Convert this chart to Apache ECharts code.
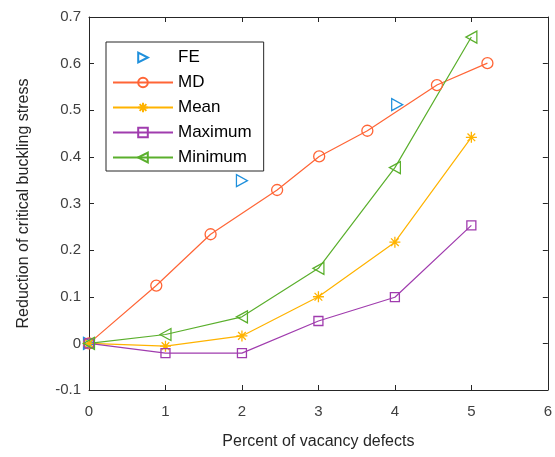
<!DOCTYPE html>
<html>
<head>
<meta charset="utf-8">
<script src="https://cdn.jsdelivr.net/npm/echarts@6/dist/echarts.min.js"></script>
<style>
html,body{margin:0;padding:0;background:#fff;}
#chart{width:555px;height:457px;}
</style>
</head>
<body>
<div id="chart"></div>
<script>
// ---- data ----
var seriesNames = ['FE', 'MD', 'Mean', 'Maximum', 'Minimum'];
var feX = [0, 2.0, 4.03];
var feY = [0, 0.349, 0.512];
var mdX = [0, 0.88, 1.59, 2.46, 3.01, 3.64, 4.55, 5.21];
var mdY = [0, 0.124, 0.234, 0.329, 0.401, 0.456, 0.554, 0.601];
var meanX = [0, 1, 2, 3, 4, 5];
var meanY = [0, -0.006, 0.016, 0.100, 0.217, 0.442];
var maxX = [0, 1, 2, 3, 4, 5];
var maxY = [0, -0.021, -0.021, 0.048, 0.099, 0.253];
var minX = [0, 1, 2, 3, 4, 5];
var minY = [0, 0.019, 0.057, 0.161, 0.377, 0.657];
var xTicks = [0, 1, 2, 3, 4, 5, 6];
var yTicks = [-0.1, 0, 0.1, 0.2, 0.3, 0.4, 0.5, 0.6, 0.7];

function pairs(xs, ys) { return xs.map(function (x, i) { return [x, ys[i]]; }); }

var colors = {
  FE: '#1f90dc',
  MD: '#ff6536',
  Mean: '#ffb300',
  Maximum: '#a03cae',
  Minimum: '#5aaf2c'
};
var asterisk = 'path://M0,-10L0,10M-10,0L10,0M-7,-7L7,7M-7,7L7,-7';
var font = 'Liberation Sans, Arial, sans-serif';
var axisColor = '#262626';

function mkSeries(name, data, symbol, size, rotate, noLine) {
  return {
    name: name,
    type: 'line',
    data: data,
    symbol: symbol,
    symbolSize: size,
    symbolRotate: rotate || 0,
    showSymbol: true,
    animation: false,
    xAxisIndex: 0,
    yAxisIndex: 0,
    lineStyle: { color: colors[name], width: noLine ? 0 : 1.2, opacity: noLine ? 0 : 1 },
    itemStyle: { color: 'rgba(0,0,0,0)', borderColor: colors[name], borderWidth: 1.3 },
    emphasis: { disabled: true }
  };
}

var chart = echarts.init(document.getElementById('chart'), null, { renderer: 'canvas' });
var option = {
  backgroundColor: '#fff',
  animation: false,
  color: seriesNames.map(function (n) { return colors[n]; }),
  grid: { left: 89, right: 6, top: 17, bottom: 67, containLabel: false },
  legend: {
    orient: 'vertical',
    left: 106,
    top: 42,
    padding: [7, 12, 5, 6],
    backgroundColor: '#fff',
    borderColor: axisColor,
    borderWidth: 1,
    itemWidth: 60,
    itemHeight: 12,
    itemGap: 8,
    data: seriesNames,
    textStyle: { fontFamily: font, fontSize: 17, lineHeight: 17, color: '#000' }
  },
  xAxis: [{
    type: 'value', min: 0, max: 6, interval: 1,
    name: 'Percent of vacancy defects', nameLocation: 'middle', nameGap: 44,
    nameTextStyle: { fontFamily: font, fontSize: 16, color: axisColor },
    axisLine: { show: true, onZero: false, lineStyle: { color: axisColor, width: 1 } },
    axisTick: { show: true, inside: true, length: 5, lineStyle: { color: axisColor } },
    axisLabel: { fontFamily: font, fontSize: 15, color: '#404040', margin: 14,
      formatter: function (v) { return xTicks.indexOf(v) >= 0 ? String(v) : ''; } },
    splitLine: { show: false }
  }, {
    type: 'value', min: 0, max: 6, interval: 1, position: 'top',
    axisLine: { show: true, onZero: false, lineStyle: { color: axisColor, width: 1 } },
    axisTick: { show: true, inside: true, length: 5, lineStyle: { color: axisColor } },
    axisLabel: { show: false }, splitLine: { show: false }
  }],
  yAxis: [{
    type: 'value', min: -0.1, max: 0.7, interval: 0.1,
    name: 'Reduction of critical buckling stress', nameLocation: 'middle', nameGap: 57,
    nameTextStyle: { fontFamily: font, fontSize: 16, color: axisColor },
    axisLine: { show: true, onZero: false, lineStyle: { color: axisColor, width: 1 } },
    axisTick: { show: true, inside: true, length: 5, lineStyle: { color: axisColor } },
    axisLabel: { fontFamily: font, fontSize: 15, color: '#404040', margin: 8,
      formatter: function (v) {
        var r = Math.round(v * 10) / 10;
        return String(r);
      } },
    splitLine: { show: false }
  }, {
    type: 'value', min: -0.1, max: 0.7, interval: 0.1, position: 'right',
    axisLine: { show: true, onZero: false, lineStyle: { color: axisColor, width: 1 } },
    axisTick: { show: true, inside: true, length: 5, lineStyle: { color: axisColor } },
    axisLabel: { show: false }, splitLine: { show: false }
  }],
  series: [
    mkSeries('FE', pairs(feX, feY), 'triangle', [12, 11], -90, true),
    mkSeries('MD', pairs(mdX, mdY), 'circle', 11, 0, false),
    mkSeries('Mean', pairs(meanX, meanY), asterisk, 11, 0, false),
    mkSeries('Maximum', pairs(maxX, maxY), 'rect', 9, 0, false),
    mkSeries('Minimum', pairs(minX, minY), 'triangle', [12, 11], 90, false)
  ]
};
chart.setOption(option);
</script>
</body>
</html>
